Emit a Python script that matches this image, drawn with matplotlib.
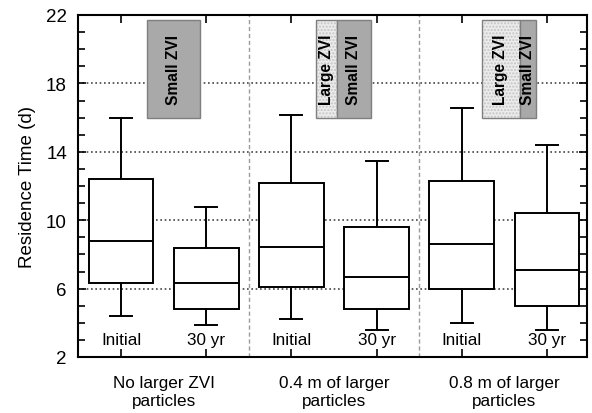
import matplotlib
matplotlib.use('Agg')
import matplotlib.pyplot as plt
from matplotlib.patches import Rectangle
from matplotlib.ticker import MultipleLocator

plt.rcParams['font.family'] = ['Liberation Sans', 'DejaVu Sans']

# box statistics per case (Initial / 30 yr for each barrier design)
positions = [1, 2, 3, 4, 5, 6]
case_labels = ['Initial', '30 yr', 'Initial', '30 yr', 'Initial', '30 yr']
whislo = [4.4, 3.85, 4.2, 3.6, 4.0, 3.6]
q1 = [6.3, 4.8, 6.1, 4.8, 6.0, 5.0]
med = [8.8, 6.3, 8.45, 6.7, 8.6, 7.1]
q3 = [12.4, 8.4, 12.2, 9.6, 12.3, 10.4]
whishi = [16.0, 10.8, 16.15, 13.45, 16.55, 14.4]

group_labels = ['No larger ZVI\nparticles', '0.4 m of larger\nparticles', '0.8 m of larger\nparticles']
yticks = [2, 6, 10, 14, 18, 22]

fig = plt.figure(figsize=(5.92, 4.14), dpi=100)
ax = fig.add_axes([78/592, 56/414, 509/592, 342/414])

stats = []
for i in range(len(positions)):
    stats.append({'whislo': whislo[i], 'q1': q1[i], 'med': med[i],
                  'q3': q3[i], 'whishi': whishi[i], 'fliers': []})

ax.bxp(stats, positions=positions, widths=0.76, showfliers=False,
       patch_artist=True,
       boxprops=dict(facecolor='white', edgecolor='black', lw=1.4),
       medianprops=dict(color='black', lw=1.4),
       whiskerprops=dict(color='black', lw=1.4),
       capprops=dict(color='black', lw=1.4),
       capwidths=0.26, zorder=4)

ax.set_xlim(0.495, 6.47)
ax.set_ylim(2, 22)

# dotted horizontal grid + dashed group separators
for y in yticks[1:-1]:
    ax.axhline(y, color='#444444', ls=(0, (1, 1.6)), lw=1.2, zorder=1)
for x in [2.5, 4.5]:
    ax.axvline(x, color='#9a9a9a', ls=(0, (3, 2)), lw=1.0, zorder=1)

# case labels inside the plot
for p, lab in zip(positions, case_labels):
    ax.text(p, 3.0, lab, ha='center', va='center', fontsize=12.3)

# group labels under the axis
for g, lab in enumerate(group_labels):
    ax.text(1.5 + 2*g, -0.101, lab, transform=ax.get_xaxis_transform(),
            ha='center', va='center', fontsize=12.3, linespacing=1.3)

# small columns showing the ZVI layout of each design
y0, y1 = 16.0, 21.7
cols = [
    [(1.30, 1.93, 'small')],
    [(3.29, 3.53, 'large'), (3.53, 3.93, 'small')],
    [(5.24, 5.68, 'large'), (5.68, 5.87, 'small')],
]
for grp in cols:
    for xa, xb, kind in grp:
        if kind == 'small':
            ax.add_patch(Rectangle((xa, y0), xb - xa, y1 - y0, facecolor='#a9a9a9',
                                   edgecolor='#7f7f7f', lw=1.0, zorder=5))
            txt = 'Small ZVI'
        else:
            ax.add_patch(Rectangle((xa, y0), xb - xa, y1 - y0, facecolor='#ececec',
                                   edgecolor='#c4c4c4', hatch='.....', lw=0, zorder=5))
            ax.add_patch(Rectangle((xa, y0), xb - xa, y1 - y0, fill=False,
                                   edgecolor='#7f7f7f', lw=1.0, zorder=5))
            txt = 'Large ZVI'
        ax.text((xa + xb)/2, (y0 + y1)/2, txt, rotation=90, ha='center',
                va='center', fontsize=11.2, fontweight='bold', zorder=6)

# ticks
ax.set_xticks(positions)
ax.set_xticklabels([])
ax.set_yticks(yticks)
ax.yaxis.set_minor_locator(MultipleLocator(1))
ax.tick_params(axis='both', which='both', direction='in', top=True, right=True,
               width=1.2, color='black')
ax.tick_params(axis='both', which='major', length=6)
ax.tick_params(axis='y', which='minor', length=5)
ax.tick_params(axis='y', which='major', labelsize=13.5, pad=8)

for s in ax.spines.values():
    s.set_linewidth(1.5)

ax.set_ylabel('Residence Time (d)', fontsize=13.5, labelpad=7)

plt.savefig('out.png', dpi=100)
